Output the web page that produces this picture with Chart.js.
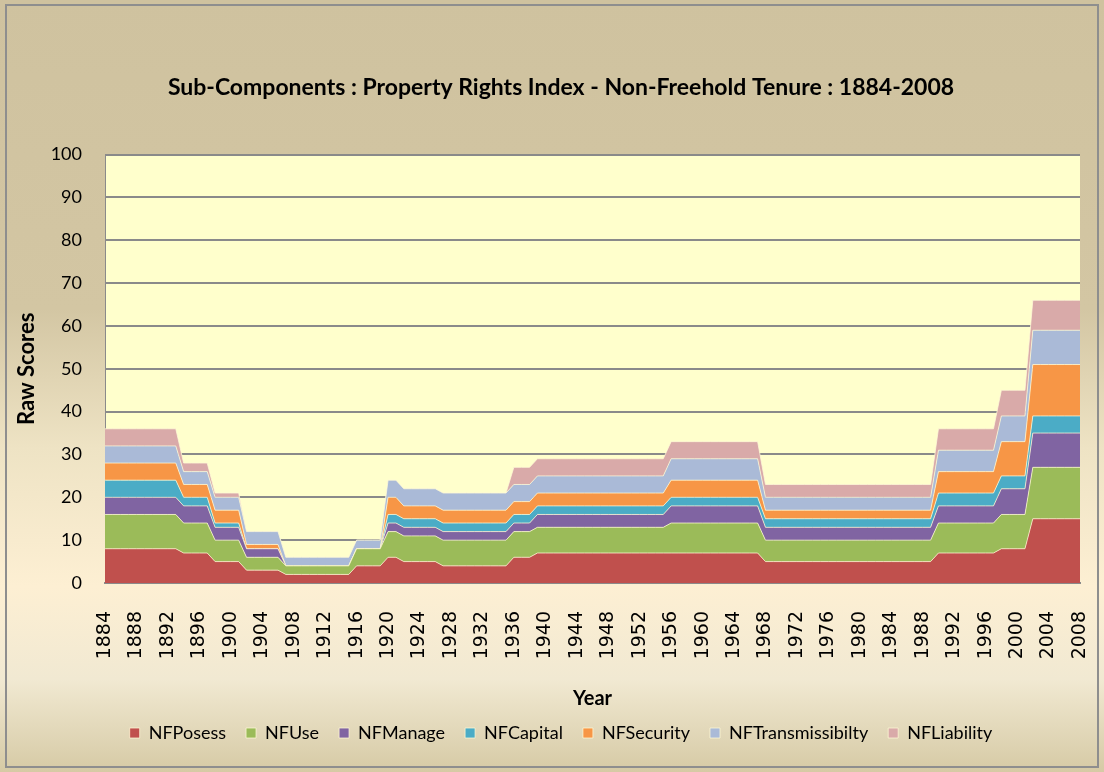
<!DOCTYPE html>
<html>
<head>
<meta charset="utf-8">
<script src="https://cdn.jsdelivr.net/npm/chart.js@4.4.1/dist/chart.umd.min.js"></script>
<style>
  html, body { margin: 0; padding: 0; background: #fff; }
  #wrap { width: 1104px; height: 772px; position: relative; }
</style>
</head>
<body>
<div id="wrap"><canvas id="c" width="1104" height="772"></canvas></div>
<script>
/* ===== Property Rights Index – Non-Freehold sub-components ===== */
const years = [
  1884,1885,1886,1887,1888,1889,1890,1891,1892,1893,1894,1895,1896,1897,1898,1899,
  1900,1901,1902,1903,1904,1905,1906,1907,1908,1909,1910,1911,1912,1913,1914,1915,
  1916,1917,1918,1919,1920,1921,1922,1923,1924,1925,1926,1927,1928,1929,1930,1931,
  1932,1933,1934,1935,1936,1937,1938,1939,1940,1941,1942,1943,1944,1945,1946,1947,
  1948,1949,1950,1951,1952,1953,1954,1955,1956,1957,1958,1959,1960,1961,1962,1963,
  1964,1965,1966,1967,1968,1969,1970,1971,1972,1973,1974,1975,1976,1977,1978,1979,
  1980,1981,1982,1983,1984,1985,1986,1987,1988,1989,1990,1991,1992,1993,1994,1995,
  1996,1997,1998,1999,2000,2001,2002,2003,2004,2005,2006,2007,2008
];
const yTicks = [0, 10, 20, 30, 40, 50, 60, 70, 80, 90, 100];

// one line per period of constant scores
const NFPosess = [
  8,8,8,8,8,8,8,8,8,8,          // 1884-1893
  7,7,7,7,                      // 1894-1897
  5,5,5,5,                      // 1898-1901
  3,3,3,3,3,                    // 1902-1906
  2,2,2,2,2,2,2,2,2,            // 1907-1915
  4,4,4,4,                      // 1916-1919
  6,6,                          // 1920-1921
  5,5,5,5,5,                    // 1922-1926
  4,4,4,4,4,4,4,4,4,            // 1927-1935
  6,6,6,                        // 1936-1938
  7,7,7,7,7,7,7,7,7,7,7,7,7,7,7,7,7,   // 1939-1955
  7,7,7,7,7,7,7,7,7,7,7,7,      // 1956-1967
  5,5,5,5,5,5,5,5,5,5,5,5,5,5,5,5,5,5,5,5,5,5,   // 1968-1989
  7,7,7,7,7,7,7,7,              // 1990-1997
  8,8,8,8,                      // 1998-2001
  15,15,15,15,15,15,15          // 2002-2008
];
const NFUse = [
  8,8,8,8,8,8,8,8,8,8,
  7,7,7,7,
  5,5,5,5,
  3,3,3,3,3,
  2,2,2,2,2,2,2,2,2,
  4,4,4,4,
  6,6,
  6,6,6,6,6,
  6,6,6,6,6,6,6,6,6,
  6,6,6,
  6,6,6,6,6,6,6,6,6,6,6,6,6,6,6,6,6,
  7,7,7,7,7,7,7,7,7,7,7,7,
  5,5,5,5,5,5,5,5,5,5,5,5,5,5,5,5,5,5,5,5,5,5,
  7,7,7,7,7,7,7,7,
  8,8,8,8,
  12,12,12,12,12,12,12
];
const NFManage = [
  4,4,4,4,4,4,4,4,4,4,
  4,4,4,4,
  3,3,3,3,
  2,2,2,2,2,
  0,0,0,0,0,0,0,0,0,
  0,0,0,0,
  2,2,
  2,2,2,2,2,
  2,2,2,2,2,2,2,2,2,
  2,2,2,
  3,3,3,3,3,3,3,3,3,3,3,3,3,3,3,3,3,
  4,4,4,4,4,4,4,4,4,4,4,4,
  3,3,3,3,3,3,3,3,3,3,3,3,3,3,3,3,3,3,3,3,3,3,
  4,4,4,4,4,4,4,4,
  6,6,6,6,
  8,8,8,8,8,8,8
];
const NFCapital = [
  4,4,4,4,4,4,4,4,4,4,
  2,2,2,2,
  1,1,1,1,
  0,0,0,0,0,
  0,0,0,0,0,0,0,0,0,
  0,0,0,0,
  2,2,
  2,2,2,2,2,
  2,2,2,2,2,2,2,2,2,
  2,2,2,
  2,2,2,2,2,2,2,2,2,2,2,2,2,2,2,2,2,
  2,2,2,2,2,2,2,2,2,2,2,2,
  2,2,2,2,2,2,2,2,2,2,2,2,2,2,2,2,2,2,2,2,2,2,
  3,3,3,3,3,3,3,3,
  3,3,3,3,
  4,4,4,4,4,4,4
];
const NFSecurity = [
  4,4,4,4,4,4,4,4,4,4,
  3,3,3,3,
  3,3,3,3,
  1,1,1,1,1,
  0,0,0,0,0,0,0,0,0,
  0,0,0,0,
  4,4,
  3,3,3,3,3,
  3,3,3,3,3,3,3,3,3,
  3,3,3,
  3,3,3,3,3,3,3,3,3,3,3,3,3,3,3,3,3,
  4,4,4,4,4,4,4,4,4,4,4,4,
  2,2,2,2,2,2,2,2,2,2,2,2,2,2,2,2,2,2,2,2,2,2,
  5,5,5,5,5,5,5,5,
  8,8,8,8,
  12,12,12,12,12,12,12
];
const NFTransmissibilty = [
  4,4,4,4,4,4,4,4,4,4,
  3,3,3,3,
  3,3,3,3,
  3,3,3,3,3,
  2,2,2,2,2,2,2,2,2,
  2,2,2,2,
  4,4,
  4,4,4,4,4,
  4,4,4,4,4,4,4,4,4,
  4,4,4,
  4,4,4,4,4,4,4,4,4,4,4,4,4,4,4,4,4,
  5,5,5,5,5,5,5,5,5,5,5,5,
  3,3,3,3,3,3,3,3,3,3,3,3,3,3,3,3,3,3,3,3,3,3,
  5,5,5,5,5,5,5,5,
  6,6,6,6,
  8,8,8,8,8,8,8
];
const NFLiability = [
  4,4,4,4,4,4,4,4,4,4,
  2,2,2,2,
  1,1,1,1,
  0,0,0,0,0,
  0,0,0,0,0,0,0,0,0,
  0,0,0,0,
  0,0,
  0,0,0,0,0,
  0,0,0,0,0,0,0,0,0,
  4,4,4,
  4,4,4,4,4,4,4,4,4,4,4,4,4,4,4,4,4,
  4,4,4,4,4,4,4,4,4,4,4,4,
  3,3,3,3,3,3,3,3,3,3,3,3,3,3,3,3,3,3,3,3,3,3,
  5,5,5,5,5,5,5,5,
  6,6,6,6,
  7,7,7,7,7,7,7
];

const SERIES = [
  ['NFPosess', NFPosess, '#C0504D'],
  ['NFUse', NFUse, '#9BBB59'],
  ['NFManage', NFManage, '#8064A2'],
  ['NFCapital', NFCapital, '#4BACC6'],
  ['NFSecurity', NFSecurity, '#F79646'],
  ['NFTransmissibilty', NFTransmissibilty, '#AABAD7'],
  ['NFLiability', NFLiability, '#D9AAA9'],
];

Chart.defaults.font.family = 'Lato, "Open Sans", sans-serif';
Chart.defaults.color = '#000';

// Hintergrund: Verlauf, Rahmen, gelbe Plotfläche
const backdrop = {
  id: 'backdrop',
  beforeDraw(c) {
    const { ctx, width, height, chartArea: a } = c;
    ctx.save();
    const g = ctx.createLinearGradient(0, 0, 0, height);
    g.addColorStop(0, '#CFC29F');
    g.addColorStop(0.40, '#D3C6A3');
    g.addColorStop(0.58, '#EEE3C4');
    g.addColorStop(0.76, '#FDEFD3');
    g.addColorStop(0.88, '#F1E9D2');
    g.addColorStop(1, '#D6CAA5');
    ctx.fillStyle = g;
    ctx.fillRect(0, 0, width, height);
    ctx.strokeStyle = '#8E8E8E'; ctx.lineWidth = 2;
    ctx.strokeRect(6, 5, width - 12, height - 10);
    ctx.fillStyle = '#FFFFCC';
    ctx.fillRect(a.left, a.top, a.right - a.left, a.bottom - a.top);
    ctx.restore();
  },
};

new Chart(document.getElementById('c'), {
  type: 'line',
  data: {
    labels: years,
    datasets: SERIES.map(([name, data, col], i) => ({
      label: name, data,
      backgroundColor: col, borderColor: 'rgba(255,250,215,0.75)', borderWidth: 1,
      fill: i === 0 ? 'origin' : '-1', pointRadius: 0, tension: 0,
    })),
  },
  options: {
    responsive: false, animation: false,
    layout: { padding: { left: 18, right: 0, top: 0, bottom: 20 } },
    plugins: {
      title: {
        display: true, text: 'Sub-Components : Property Rights Index - Non-Freehold Tenure : 1884-2008',
        font: { size: 23, weight: 'bold' }, color: '#000',
        padding: { top: 74, bottom: 53 },
      },
      legend: {
        position: 'bottom',
        labels: { boxWidth: 10, boxHeight: 10, padding: 20, font: { size: 18 }, color: '#000' },
      },
      tooltip: { enabled: false },
    },
    scales: {
      x: {
        type: 'category', offset: false,
        grid: { display: false, drawTicks: false },
        border: { display: true, color: '#8A8A8A', width: 2 },
        ticks: {
          autoSkip: false, maxRotation: 90, minRotation: 90, padding: 28,
          font: { family: '"DejaVu Sans", sans-serif', size: 19 }, color: '#000',
          callback: (v, i) => i % 4 === 0 ? years[i] : '',
        },
        title: { display: true, text: 'Year', font: { size: 20, weight: 'bold', lineHeight: 0.5 }, padding: { top: 0, bottom: 0 } },
        // rotierte Labels: rechter Rand fest, Höhe fest
        afterFit: s => { s.height = 121; s.paddingRight = 24; s.paddingLeft = 0; },
      },
      y: {
        stacked: true, min: yTicks[0], max: yTicks[yTicks.length - 1],
        grid: { color: '#8A8A8A', lineWidth: 2, drawTicks: false },
        border: { display: true, color: '#8A8A8A', width: 1 },
        ticks: { stepSize: 10, padding: 23, font: { size: 18 }, color: '#000' },
        afterBuildTicks: s => { s.ticks = yTicks.map(v => ({ value: v })); },
        title: { display: true, text: 'Raw Scores', font: { size: 22, weight: 'bold', lineHeight: 0.5 }, padding: { top: 3.5, bottom: 0 } },
        afterFit: s => { s.width = 87; },
      },
    },
  },
  plugins: [backdrop],
});
</script>
</body>
</html>
